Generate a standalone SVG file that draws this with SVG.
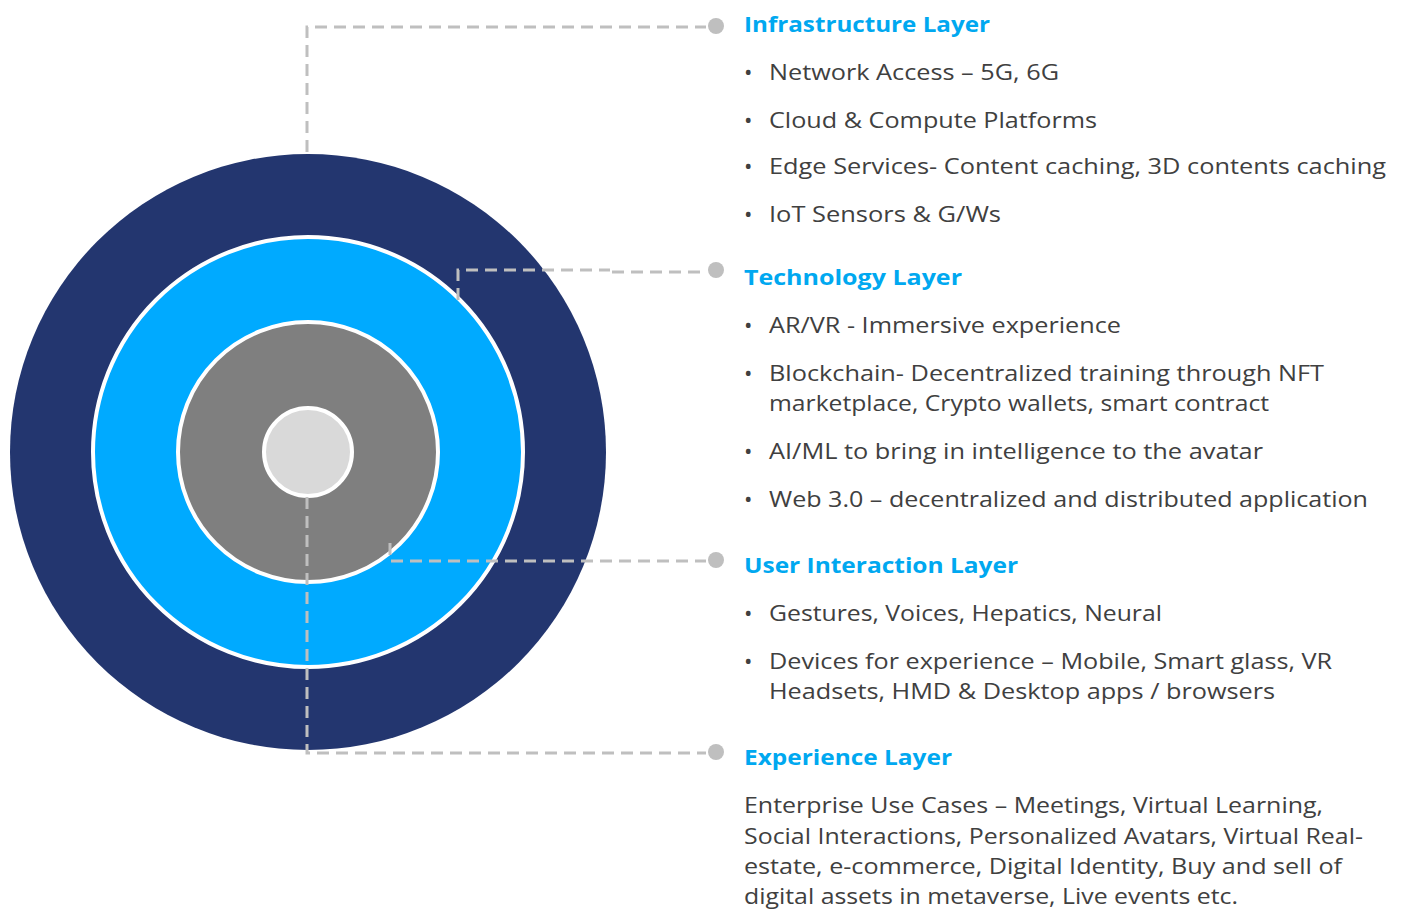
<svg xmlns="http://www.w3.org/2000/svg" width="1402" height="911" viewBox="0 0 1402 911">
<style>
.h{font-family:"Open Sans","Noto Sans",sans-serif;font-weight:700;font-size:22px;fill:#00a8f0}
.t{font-family:"Open Sans","Noto Sans",sans-serif;font-size:22.5px;fill:#404040}
.c{fill:none;stroke:#bfbfbf;stroke-width:3;stroke-dasharray:12 7}
.d{fill:#bfbfbf}
</style>
<rect width="1402" height="911" fill="#ffffff"/>
<g id="rings">
<circle cx="308" cy="452" r="298" fill="#23366f"/>
<circle cx="308" cy="452" r="215" fill="#00aaff" stroke="#ffffff" stroke-width="4"/>
<circle cx="308" cy="452" r="130" fill="#7f7f7f" stroke="#ffffff" stroke-width="4"/>
<circle cx="308" cy="452" r="44" fill="#d9d9d9" stroke="#ffffff" stroke-width="4"/>
</g>
<g id="connectors">
<path class="c" d="M307 152 V27 H706"/>
<circle class="d" cx="716" cy="26" r="8"/>
<path class="c" d="M458 300 V270 H610"/>
<path class="c" d="M612 272 H706"/>
<circle class="d" cx="716" cy="270" r="8"/>
<path class="c" d="M390 543 V561 H706"/>
<circle class="d" cx="716" cy="560" r="8"/>
<path class="c" d="M307 497 V753 H706"/>
<circle class="d" cx="716" cy="752" r="8"/>
</g>
<g id="infrastructure">
<text class="h" x="744" y="32" textLength="246" lengthAdjust="spacingAndGlyphs">Infrastructure Layer</text>
<text class="t" x="744" y="80">•</text><text class="t" x="769" y="80" textLength="290" lengthAdjust="spacingAndGlyphs">Network Access – 5G, 6G</text>
<text class="t" x="744" y="128">•</text><text class="t" x="769" y="128" textLength="328" lengthAdjust="spacingAndGlyphs">Cloud &amp; Compute Platforms</text>
<text class="t" x="744" y="174">•</text><text class="t" x="769" y="174" textLength="617" lengthAdjust="spacingAndGlyphs">Edge Services- Content caching, 3D contents caching</text>
<text class="t" x="744" y="222">•</text><text class="t" x="769" y="222" textLength="232" lengthAdjust="spacingAndGlyphs">IoT Sensors &amp; G/Ws</text>
</g>
<g id="technology">
<text class="h" x="744" y="285" textLength="218" lengthAdjust="spacingAndGlyphs">Technology Layer</text>
<text class="t" x="744" y="333">•</text><text class="t" x="769" y="333" textLength="352" lengthAdjust="spacingAndGlyphs">AR/VR - Immersive experience</text>
<text class="t" x="744" y="381">•</text><text class="t" x="769" y="381" textLength="555" lengthAdjust="spacingAndGlyphs">Blockchain- Decentralized training through NFT</text>
<text class="t" x="769" y="411" textLength="500" lengthAdjust="spacingAndGlyphs">marketplace, Crypto wallets, smart contract</text>
<text class="t" x="744" y="459">•</text><text class="t" x="769" y="459" textLength="494" lengthAdjust="spacingAndGlyphs">AI/ML to bring in intelligence to the avatar</text>
<text class="t" x="744" y="507">•</text><text class="t" x="769" y="507" textLength="599" lengthAdjust="spacingAndGlyphs">Web 3.0 – decentralized and distributed application</text>
</g>
<g id="user-interaction">
<text class="h" x="744" y="573" textLength="274" lengthAdjust="spacingAndGlyphs">User Interaction Layer</text>
<text class="t" x="744" y="621">•</text><text class="t" x="769" y="621" textLength="393" lengthAdjust="spacingAndGlyphs">Gestures, Voices, Hepatics, Neural</text>
<text class="t" x="744" y="669">•</text><text class="t" x="769" y="669" textLength="563" lengthAdjust="spacingAndGlyphs">Devices for experience – Mobile, Smart glass, VR</text>
<text class="t" x="769" y="699" textLength="506" lengthAdjust="spacingAndGlyphs">Headsets, HMD &amp; Desktop apps / browsers</text>
</g>
<g id="experience">
<text class="h" x="744" y="765" textLength="208" lengthAdjust="spacingAndGlyphs">Experience Layer</text>
<text class="t" x="744" y="813" textLength="579" lengthAdjust="spacingAndGlyphs">Enterprise Use Cases – Meetings, Virtual Learning,</text>
<text class="t" x="744" y="844" textLength="619" lengthAdjust="spacingAndGlyphs">Social Interactions, Personalized Avatars, Virtual Real-</text>
<text class="t" x="744" y="874" textLength="598" lengthAdjust="spacingAndGlyphs">estate, e-commerce, Digital Identity, Buy and sell of</text>
<text class="t" x="744" y="904" textLength="494" lengthAdjust="spacingAndGlyphs">digital assets in metaverse, Live events etc.</text>
</g>
</svg>
